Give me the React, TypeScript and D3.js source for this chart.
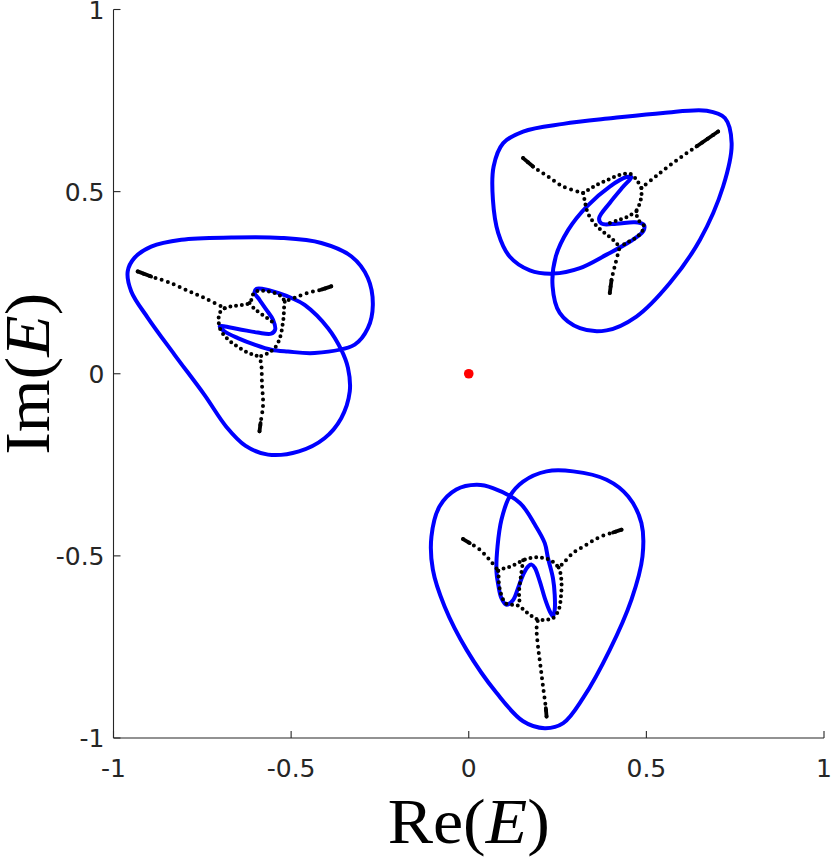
import React from "react";
import * as d3 from "d3";

type P = [number, number];

// ---- Tick values / labels ----
const xTicks = [-1, -0.5, 0, 0.5, 1];
const xTickLabels = ["-1", "-0.5", "0", "0.5", "1"];
const yTicks = [-1, -0.5, 0, 0.5, 1];
const yTickLabels = ["-1", "-0.5", "0", "0.5", "1"];

// ---- Origin marker ----
const origin: P[] = [[0, 0]];

// ---- Blue closed curves (Re, Im) ----
const blueUpperRight: P[] = [
  [0.068, 0.478], [0.083, 0.386], [0.115, 0.322], [0.172, 0.284], [0.238, 0.275],
  [0.313, 0.29], [0.388, 0.327], [0.454, 0.363], [0.491, 0.391], [0.493, 0.409],
  [0.468, 0.416], [0.416, 0.412], [0.374, 0.412], [0.367, 0.427], [0.397, 0.469],
  [0.435, 0.514], [0.458, 0.54], [0.444, 0.54], [0.397, 0.514], [0.332, 0.459],
  [0.28, 0.395], [0.245, 0.322], [0.236, 0.24], [0.256, 0.167], [0.313, 0.125],
  [0.388, 0.119], [0.472, 0.157], [0.566, 0.249], [0.651, 0.368], [0.716, 0.514],
  [0.74, 0.633], [0.721, 0.702], [0.67, 0.722], [0.547, 0.716], [0.406, 0.702],
  [0.266, 0.686], [0.153, 0.665], [0.097, 0.633], [0.07, 0.569],
];

const blueLeft: P[] = [
  [-0.701, 0.13], [-0.65, 0.123], [-0.594, 0.113], [-0.556, 0.11], [-0.545, 0.121],
  [-0.551, 0.148], [-0.57, 0.176], [-0.589, 0.203], [-0.603, 0.223], [-0.598, 0.233],
  [-0.579, 0.233], [-0.537, 0.222], [-0.499, 0.208], [-0.462, 0.189], [-0.396, 0.125],
  [-0.359, 0.066], [-0.34, 0.016], [-0.335, -0.049], [-0.359, -0.122], [-0.406, -0.177],
  [-0.478, -0.213], [-0.565, -0.222], [-0.628, -0.198], [-0.682, -0.146], [-0.744, -0.058],
  [-0.828, 0.052], [-0.903, 0.153], [-0.95, 0.226], [-0.96, 0.281], [-0.941, 0.318],
  [-0.894, 0.349], [-0.809, 0.368], [-0.668, 0.374], [-0.528, 0.373], [-0.415, 0.359],
  [-0.33, 0.322], [-0.284, 0.263], [-0.27, 0.189], [-0.284, 0.125], [-0.321, 0.08],
  [-0.434, 0.057], [-0.509, 0.061], [-0.556, 0.066], [-0.603, 0.08], [-0.65, 0.098],
  [-0.687, 0.116],
];

const blueLower: P[] = [
  [0.177, -0.524], [0.186, -0.533], [0.2, -0.57], [0.214, -0.616], [0.228, -0.652],
  [0.237, -0.666], [0.242, -0.648], [0.242, -0.607], [0.237, -0.561], [0.223, -0.506],
  [0.214, -0.465], [0.186, -0.414], [0.144, -0.355], [0.068, -0.314], [0.022, -0.305],
  [-0.035, -0.318], [-0.082, -0.364], [-0.105, -0.447], [-0.101, -0.538], [-0.068, -0.639],
  [-0.006, -0.758], [0.078, -0.876], [0.153, -0.954], [0.214, -0.973], [0.266, -0.959],
  [0.322, -0.89], [0.397, -0.758], [0.458, -0.62], [0.489, -0.502], [0.486, -0.41],
  [0.449, -0.337], [0.388, -0.291], [0.294, -0.268], [0.219, -0.268], [0.153, -0.296],
  [0.115, -0.337], [0.092, -0.401], [0.081, -0.474], [0.078, -0.543], [0.083, -0.579],
  [0.092, -0.616], [0.106, -0.634], [0.125, -0.621], [0.139, -0.588], [0.153, -0.552],
  [0.167, -0.529],
];

// ---- Black dotted branches, upper-right group (arms start at outer end) ----
const urArmA: P[] = [[0.153, 0.592], [0.181, 0.569], [0.219, 0.544], [0.266, 0.514], [0.322, 0.496]];
const urArmB: P[] = [[0.702, 0.665], [0.641, 0.624], [0.585, 0.586], [0.529, 0.544], [0.486, 0.51]];
const urArmC: P[] = [[0.397, 0.222], [0.402, 0.258], [0.411, 0.295], [0.425, 0.348]];
const urTop: P[] = [[0.322, 0.496], [0.35, 0.513], [0.388, 0.531], [0.425, 0.546], [0.454, 0.549], [0.472, 0.533], [0.486, 0.51]];
const urRight: P[] = [[0.486, 0.51], [0.486, 0.487], [0.48, 0.464], [0.472, 0.446], [0.477, 0.423], [0.493, 0.406], [0.486, 0.388], [0.468, 0.372], [0.444, 0.359], [0.425, 0.348]];
const urMiddle: P[] = [[0.472, 0.446], [0.444, 0.43], [0.416, 0.42], [0.392, 0.412]];
const urLeft: P[] = [[0.322, 0.496], [0.327, 0.473], [0.332, 0.45], [0.343, 0.427], [0.36, 0.406], [0.383, 0.386], [0.406, 0.368], [0.425, 0.348]];

// ---- Left group ----
const lfArmA: P[] = [[-0.932, 0.281], [-0.894, 0.267], [-0.847, 0.252], [-0.791, 0.228], [-0.744, 0.208], [-0.687, 0.18]];
const lfArmB: P[] = [[-0.387, 0.24], [-0.415, 0.231], [-0.453, 0.222], [-0.49, 0.209], [-0.518, 0.198]];
const lfArmC: P[] = [[-0.589, -0.158], [-0.586, -0.135], [-0.579, -0.085], [-0.582, -0.03], [-0.584, 0.025], [-0.589, 0.047]];
const lfTop: P[] = [[-0.687, 0.18], [-0.668, 0.185], [-0.65, 0.187], [-0.631, 0.19], [-0.617, 0.194], [-0.61, 0.208], [-0.605, 0.222], [-0.589, 0.228], [-0.565, 0.226], [-0.542, 0.22], [-0.526, 0.211], [-0.518, 0.198]];
const lfMiddle: P[] = [[-0.617, 0.194], [-0.603, 0.178], [-0.584, 0.164], [-0.565, 0.151], [-0.548, 0.139]];
const lfRight: P[] = [[-0.518, 0.198], [-0.52, 0.18], [-0.521, 0.157], [-0.524, 0.135], [-0.528, 0.112], [-0.535, 0.089], [-0.546, 0.071], [-0.565, 0.057], [-0.589, 0.047]];
const lfLeft: P[] = [[-0.687, 0.18], [-0.701, 0.167], [-0.704, 0.144], [-0.699, 0.121], [-0.687, 0.104], [-0.668, 0.086], [-0.645, 0.071], [-0.622, 0.058], [-0.603, 0.051], [-0.589, 0.047]];

// ---- Lower group ----
const lwArmA: P[] = [[-0.016, -0.454], [0.003, -0.465], [0.031, -0.483], [0.059, -0.511], [0.083, -0.541]];
const lwArmB: P[] = [[0.43, -0.428], [0.406, -0.436], [0.369, -0.448], [0.332, -0.469], [0.294, -0.492], [0.266, -0.52], [0.253, -0.532]];
const lwArmC: P[] = [[0.219, -0.941], [0.217, -0.918], [0.209, -0.858], [0.202, -0.803], [0.195, -0.749], [0.191, -0.698], [0.195, -0.675]];
const lwTop: P[] = [[0.083, -0.541], [0.097, -0.535], [0.115, -0.53], [0.134, -0.522], [0.153, -0.512], [0.172, -0.506], [0.191, -0.504], [0.209, -0.506], [0.228, -0.511], [0.243, -0.521], [0.253, -0.532]];
const lwMiddle: P[] = [[0.153, -0.512], [0.148, -0.547], [0.145, -0.57], [0.142, -0.593], [0.142, -0.616], [0.144, -0.632]];
const lwRight: P[] = [[0.253, -0.532], [0.258, -0.547], [0.261, -0.57], [0.261, -0.593], [0.259, -0.616], [0.256, -0.639], [0.249, -0.657], [0.237, -0.671], [0.223, -0.675], [0.209, -0.676], [0.195, -0.675]];
const lwLeft: P[] = [[0.083, -0.541], [0.084, -0.556], [0.085, -0.577], [0.089, -0.598], [0.095, -0.616], [0.102, -0.629], [0.115, -0.634], [0.13, -0.634], [0.144, -0.639], [0.158, -0.651], [0.172, -0.662], [0.186, -0.671], [0.195, -0.675]];

const blueCurves = [blueUpperRight, blueLeft, blueLower];
const arms = [urArmA, urArmB, urArmC, lfArmA, lfArmB, lfArmC, lwArmA, lwArmB, lwArmC];
const innerBranches = [urTop, urRight, urMiddle, urLeft, lfTop, lfMiddle, lfRight, lfLeft, lwTop, lwMiddle, lwRight, lwLeft];

const W = 831;
const H = 858;

export default function App() {
  const x = d3.scaleLinear().domain([-1, 1]).range([113.5, 824]);
  const y = d3.scaleLinear().domain([-1, 1]).range([738, 9.5]);

  const closed = d3
    .line<P>()
    .x((d) => x(d[0]))
    .y((d) => y(d[1]))
    .curve(d3.curveCatmullRomClosed.alpha(0.5));
  const open = d3
    .line<P>()
    .x((d) => x(d[0]))
    .y((d) => y(d[1]))
    .curve(d3.curveCatmullRom.alpha(0.5));

  const axisColor = "#262626";
  const tickFont = "'DejaVu Sans', sans-serif";
  const labelFont = "'Liberation Serif', 'Times New Roman', serif";

  return (
    <svg
      width={W}
      height={H}
      viewBox={`0 0 ${W} ${H}`}
      style={{ position: "absolute", left: 0, top: 0, background: "#fff" }}
    >
      <rect x={0} y={0} width={W} height={H} fill="#fff" />

      {/* axes */}
      <g stroke={axisColor} strokeWidth={1.1} fill="none">
        <line x1={x(-1)} x2={x(-1)} y1={y(1)} y2={y(-1)} />
        <line x1={x(-1)} x2={x(1)} y1={y(-1)} y2={y(-1)} />
        {yTicks.map((t) => (
          <line key={"yt" + t} x1={x(-1)} x2={x(-1) + 7} y1={y(t)} y2={y(t)} />
        ))}
        {xTicks.map((t) => (
          <line key={"xt" + t} x1={x(t)} x2={x(t)} y1={y(-1)} y2={y(-1) - 7} />
        ))}
      </g>
      <g fill={axisColor} fontFamily={tickFont} fontSize={25}>
        {yTicks.map((t, i) => (
          <text key={"yl" + t} x={x(-1) - 9} y={y(t) + 9} textAnchor="end">
            {yTickLabels[i]}
          </text>
        ))}
        {xTicks.map((t, i) => (
          <text key={"xl" + t} x={x(t)} y={y(-1) + 39} textAnchor="middle">
            {xTickLabels[i]}
          </text>
        ))}
      </g>

      {/* axis labels */}
      <text
        x={x(0)}
        y={843}
        textAnchor="middle"
        fontFamily={labelFont}
        fontSize={64}
        textLength={162}
        lengthAdjust="spacingAndGlyphs"
        fill="#000"
      >
        Re(<tspan fontStyle="italic">E</tspan>)
      </text>
      <text
        transform={`translate(49, ${y(0)}) rotate(-90)`}
        textAnchor="middle"
        fontFamily={labelFont}
        fontSize={64}
        textLength={162}
        lengthAdjust="spacingAndGlyphs"
        fill="#000"
      >
        Im(<tspan fontStyle="italic">E</tspan>)
      </text>

      {/* blue curves */}
      <g fill="none" stroke="#0000ff" strokeWidth={4} strokeLinejoin="round">
        {blueCurves.map((c, i) => (
          <path key={"b" + i} d={closed(c) || ""} />
        ))}
      </g>

      {/* black dotted branches */}
      <g fill="none" stroke="#000" strokeLinecap="round">
        {innerBranches.map((c, i) => (
          <path key={"in" + i} d={open(c) || ""} strokeWidth={4} strokeDasharray="0 5.8" />
        ))}
        {arms.map((c, i) => (
          <path key={"arm" + i} d={open(c) || ""} strokeWidth={4} strokeDasharray="0 6.4" />
        ))}
        {arms.map((c, i) => (
          <path key={"end" + i} d={open(c.slice(0, 2)) || ""} strokeWidth={3.8} />
        ))}
      </g>

      {/* origin */}
      {origin.map((d, i) => (
        <circle key={"o" + i} cx={x(d[0])} cy={y(d[1])} r={4.8} fill="#ff0000" />
      ))}
    </svg>
  );
}
